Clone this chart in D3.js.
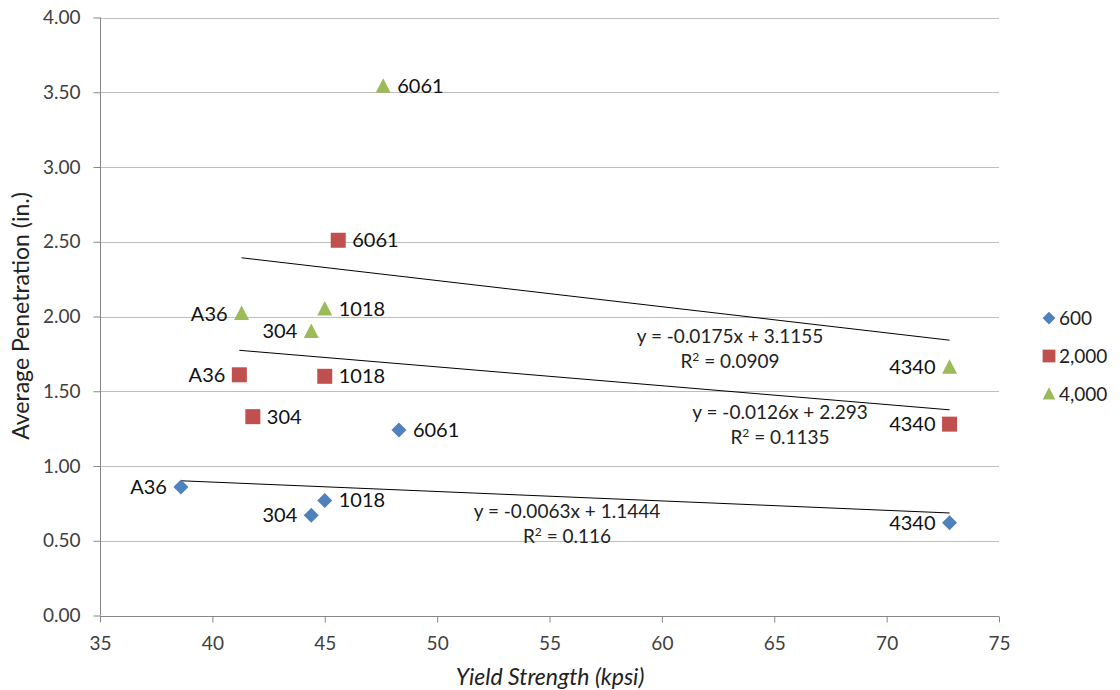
<!DOCTYPE html>
<html><head><meta charset="utf-8">
<script src="https://cdn.jsdelivr.net/npm/d3@7"></script>
<style>body{margin:0;background:#fff;}svg{display:block;font-family:Lato,"Open Sans",sans-serif;}</style>
</head><body>
<svg id="c" width="1120" height="690"></svg>
<script>
const seriesNames = ["600", "2,000", "4,000"];
const seriesColors = ["#4F81BD", "#C0504D", "#9BBB59"];
const seriesShapes = ["diamond", "square", "triangle"];
const materials = ["A36", "304", "1018", "6061", "4340"];
const yield600 = [38.6, 44.4, 45.0, 48.3, 72.8];
const pen600 = [0.86, 0.67, 0.77, 1.24, 0.62];
const yield2000 = [41.2, 41.8, 45.0, 45.6, 72.8];
const pen2000 = [1.61, 1.33, 1.60, 2.51, 1.28];
const yield4000 = [41.3, 44.4, 45.0, 47.6, 72.8];
const pen4000 = [2.02, 1.90, 2.05, 3.54, 1.66];
const labelSide600 = ["left", "left", "right", "right", "left"];
const labelSide2000 = ["left", "right", "right", "right", "left"];
const labelSide4000 = ["left", "left", "right", "right", "left"];
const trendSlope = [-0.0063, -0.0126, -0.0175];
const trendIntercept = [1.1444, 2.293, 3.1155];
const trendEq = ["y = -0.0063x + 1.1444", "y = -0.0126x + 2.293", "y = -0.0175x + 3.1155"];
const trendR2 = ["0.116", "0.1135", "0.0909"];
const xTicks = [35, 40, 45, 50, 55, 60, 65, 70, 75];
const yTicks = [0, 0.5, 1, 1.5, 2, 2.5, 3, 3.5, 4];

const series = [
  {x: yield600, y: pen600, side: labelSide600},
  {x: yield2000, y: pen2000, side: labelSide2000},
  {x: yield4000, y: pen4000, side: labelSide4000}
];
const eqPos = [[567, 518], [780, 419], [730, 343]]; // label anchor positions (px)

const svg = d3.select("#c");
const x = d3.scaleLinear().domain([35, 75]).range([100, 999]);
const y = d3.scaleLinear().domain([0, 4]).range([615.5, 17.5]);

// gridlines
svg.append("g").selectAll("line").data(yTicks.slice(1)).join("line")
  .attr("x1", 100).attr("x2", 999)
  .attr("y1", d => Math.round(y(d)) + 0.5).attr("y2", d => Math.round(y(d)) + 0.5)
  .attr("stroke", "#BEBEBE").attr("stroke-width", 1);

// axes
const yAxis = svg.append("g").attr("transform", "translate(100.5,0)")
  .call(d3.axisLeft(y).tickValues(yTicks).tickFormat(d3.format(".2f")).tickSize(6).tickPadding(14));
const xAxis = svg.append("g").attr("transform", `translate(0,${Math.round(y(0)) + 0.5})`)
  .call(d3.axisBottom(x).tickValues(xTicks).tickFormat(d3.format("d")).tickSize(6).tickPadding(14));
[yAxis, xAxis].forEach(a => {
  a.selectAll("path,line").attr("stroke", "#868686");
  a.select(".domain").attr("d", a === yAxis ? `M0,${y(4)}V${y(0)}` : `M${x(35)},0H${x(75)}`);
  a.selectAll("text").attr("fill", "#404040").style("font-size", "19px").style("font-family", "Lato, 'Open Sans', sans-serif");
});
yAxis.selectAll("line").attr("x2", -7);

// trendlines
series.forEach((s, i) => {
  const x0 = d3.min(s.x), x1 = d3.max(s.x);
  svg.append("line")
    .attr("x1", x(x0)).attr("y1", y(trendSlope[i] * x0 + trendIntercept[i]))
    .attr("x2", x(x1)).attr("y2", y(trendSlope[i] * x1 + trendIntercept[i]))
    .attr("stroke", "#000").attr("stroke-width", 1);
  const [ex, ey] = eqPos[i];
  svg.append("text").attr("x", ex).attr("y", ey).attr("text-anchor", "middle")
    .style("font-size", "19px").attr("fill", "#222").text(trendEq[i]);
  const t = svg.append("text").attr("x", ex).attr("y", ey + 25).attr("text-anchor", "middle")
    .style("font-size", "19px").attr("fill", "#222");
  t.append("tspan").text("R");
  t.append("tspan").attr("dy", -7).style("font-size", "12px").text("2");
  t.append("tspan").attr("dy", 7).text(" = " + trendR2[i]);
});

function marker(g, shape, color) {
  if (shape === "diamond") g.append("path").attr("d", "M0,-7.5L7.5,0L0,7.5L-7.5,0Z").attr("fill", color);
  else if (shape === "square") g.append("rect").attr("x", -7.5).attr("y", -7.5).attr("width", 15).attr("height", 15).attr("fill", color);
  else g.append("path").attr("d", "M0,-8L7.5,6.5L-7.5,6.5Z").attr("fill", color);
}

// points and labels
series.forEach((s, i) => {
  s.x.forEach((xv, j) => {
    const g = svg.append("g").attr("transform", `translate(${x(xv)},${y(s.y[j])})`);
    marker(g, seriesShapes[i], seriesColors[i]);
    const left = s.side[j] === "left";
    g.append("text").attr("x", left ? -14 : 14).attr("y", 7)
      .attr("text-anchor", left ? "end" : "start")
      .style("font-size", "20px").attr("fill", "#111").text(materials[j]);
  });
});

// legend
seriesNames.forEach((n, i) => {
  const g = svg.append("g").attr("transform", `translate(1049,${318 + i * 38})`);
  const m = g.append("g").attr("transform", "scale(0.85)");
  marker(m, seriesShapes[i], seriesColors[i]);
  g.append("text").attr("x", 10).attr("y", 7).style("font-size", "19px").attr("fill", "#222").text(n);
});

// axis titles
svg.append("text").attr("transform", "translate(29,316) rotate(-90)").attr("text-anchor", "middle")
  .style("font-size", "23px").attr("fill", "#222").text("Average Penetration (in.)");
svg.append("text").attr("x", 550).attr("y", 685).attr("text-anchor", "middle")
  .style("font-size", "23px").style("font-style", "italic").attr("fill", "#222").text("Yield Strength (kpsi)");
</script>
</body></html>
